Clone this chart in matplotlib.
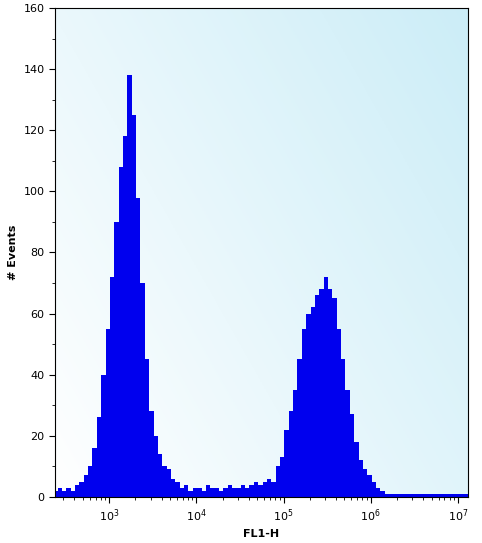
import numpy as np
import matplotlib
matplotlib.use("Agg")
import matplotlib.pyplot as plt
from matplotlib.ticker import LogLocator, MultipleLocator, NullFormatter

# ----------------------------
# Data: log10 bin edges start + step, counts per bin
# ----------------------------
log_start = 2.36
log_step = 0.05
counts = [
    2, 3, 2, 3, 2, 4, 5, 7, 10, 16, 26,
    40, 55, 72, 90, 108, 118, 138, 125, 98, 70,
    45, 28, 20, 14, 10, 9, 6, 5, 3, 4,
    2, 3, 3, 2, 4, 3, 3, 2, 3, 4,
    3, 3, 4, 3, 4, 5, 4, 5, 6, 5,
    10, 13, 22, 28, 35, 45, 55, 60, 62, 66,
    68, 72, 68, 65, 55, 45, 35, 27, 18, 12,
    9, 7, 5, 3, 2, 1, 1, 1, 1, 1,
    1, 1, 1, 1, 1, 1, 1, 1, 1, 1,
    1, 1, 1, 1, 1,
]
x_label = "FL1-H"
y_label = "# Events"

edges = 10 ** (log_start + log_step * np.arange(len(counts) + 1))

fig = plt.figure(figsize=(4.82, 5.43), dpi=100)
ax = fig.add_axes([0.114, 0.085, 0.857, 0.90])

# background gradient, white lower-left to light blue upper-right
gx, gy = np.meshgrid(np.linspace(0, 1, 200), np.linspace(0, 1, 200))
grad = np.clip(0.6 * gx + 0.4 * gy, 0, 1)
c0 = np.array([1.0, 1.0, 1.0])
c1 = np.array([0.80, 0.93, 0.97])
img = c0 + (c1 - c0) * grad[..., None]
ax.imshow(img, extent=[0, 1, 0, 1], transform=ax.transAxes, origin="lower",
          aspect="auto", zorder=0)

ax.stairs(counts, edges, fill=True, color="#0000ee", zorder=2)

ax.set_xscale("log")
ax.set_xlim(10 ** 2.38, 10 ** 7.115)
ax.set_ylim(0, 160)
ax.yaxis.set_major_locator(MultipleLocator(20))
ax.yaxis.set_minor_locator(MultipleLocator(10))
ax.xaxis.set_major_locator(LogLocator(base=10, numticks=10))
ax.xaxis.set_minor_locator(LogLocator(base=10, subs=np.arange(2, 10), numticks=20))
ax.xaxis.set_minor_formatter(NullFormatter())
ax.tick_params(labelsize=8, length=4)
ax.tick_params(which="minor", length=2)
ax.set_xlabel(x_label, fontsize=8, fontweight="bold")
ax.set_ylabel(y_label, fontsize=8, fontweight="bold")

fig.savefig("out.png", dpi=100)
plt.close(fig)
